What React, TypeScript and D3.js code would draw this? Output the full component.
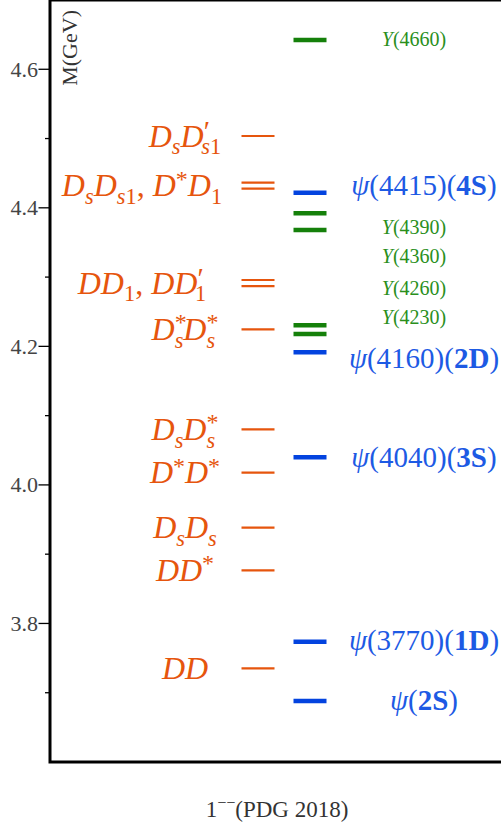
import React from 'react';
import * as d3 from 'd3';

// ---------- data ----------
const thresholdLabels = [
  'DD', 'DD^{*}', 'D_{s}D_{s}', 'D^{*}D^{*}', 'D_{s}D^{*}_{s}', 'D^{*}_{s}D^{*}_{s}',
  "DD_{1}, DD'_{1}", 'D_{s}D_{s1}, D^{*}D_{1}', "D_{s}D'_{s1}",
];
// label anchor masses (GeV)
const thresholdLabelMasses = [3.7352, 3.8767, 3.9382, 4.0176, 4.0803, 4.2246, 4.2915, 4.432, 4.5037];
// individual threshold lines (GeV)
const thresholdLines = [3.7352, 3.8767, 3.9382, 4.0176, 4.0803, 4.2246, 4.2871, 4.2958, 4.4276, 4.4363, 4.5037];

const psiLabels = ['ψ(\\b{2S})', 'ψ(3770)(\\b{1D})', 'ψ(4040)(\\b{3S})', 'ψ(4160)(\\b{2D})', 'ψ(4415)(\\b{4S})'];
const psiMasses = [3.688, 3.7736, 4.0398, 4.1914, 4.4218];
const psiLabelMasses = [3.687, 3.7736, 4.0388, 4.1817, 4.4315];

const yLabels = ['Y(4230)', 'Y(4260)', 'Y(4360)', 'Y(4390)', 'Y(4660)'];
const yMasses = [4.2178, 4.2304, 4.368, 4.3921, 4.6423];
const yLabelMasses = [4.2414, 4.2828, 4.3294, 4.3713, 4.6423];

const majorTicks = [3.8, 4.0, 4.2, 4.4, 4.6];
const majorTickLabels = ['3.8', '4.0', '4.2', '4.4', '4.6'];
const minorTicks = [3.7, 3.9, 4.1, 4.3, 4.5];

const yDomain = [3.6, 4.7];

// ---------- styles ----------
const ORANGE = '#e6550d';
const BLUE = '#0343df';
const BLUE_TEXT = '#1d5ae4';
const GREEN = '#15800a';
const GREEN_TEXT = '#2a8f1c';
const FONT = '"Liberation Serif", "DejaVu Serif", serif';

type Piece = { t: string; shift: number; size: number; it: boolean; b: boolean; dx: number };

const charW: Record<string, number> = { '*': 0.5, s: 0.389, '1': 0.5, '′': 0.3 };
const estW = (s: string) => Array.from(s).reduce((a, c) => a + (charW[c] ?? 0.5), 0);

function scriptStyle(content: string, sub: boolean) {
  if (sub) return { shift: 0.24, size: 0.7 };
  if (content === '*') return { shift: -0.3, size: 0.75 };
  if (content === '′') return { shift: -0.18, size: 0.9 };
  return { shift: -0.38, size: 0.7 };
}

function parseTeX(s: string, math = true): Piece[] {
  const pieces: Piece[] = [];
  let i = 0;
  let prevScript: number | null = null;
  const add = (t: string, shift: number, size: number, bold: boolean, dx0 = 0) => {
    let dx = dx0;
    for (const ch of Array.from(t)) {
      const it = math && !bold && /[A-Za-zψ]/.test(ch);
      const last = pieces[pieces.length - 1];
      if (last && last.shift === shift && last.size === size && last.it === it && last.b === bold && dx === 0) last.t += ch;
      else {
        pieces.push({ t: ch, shift, size, it, b: bold, dx });
        dx = 0;
      }
    }
  };
  const readGroup = () => {
    let depth = 0;
    const start = i + 1;
    for (; i < s.length; i++) {
      if (s[i] === '{') depth++;
      else if (s[i] === '}') {
        depth--;
        if (depth === 0) break;
      }
    }
    const content = s.slice(start, i);
    i++;
    return content;
  };
  const script = (content: string, sub: boolean) => {
    const st = scriptStyle(content, sub);
    const dx = prevScript !== null ? -prevScript : 0;
    add(content, st.shift, st.size, false, dx);
    prevScript = prevScript !== null ? null : estW(content) * st.size;
  };
  while (i < s.length) {
    const c = s[i];
    if (c === '_' || c === '^') {
      i++;
      const content = s[i] === '{' ? readGroup() : s[i++];
      script(content, c === '_');
      continue;
    }
    if (c === "'") {
      i++;
      script('′', false);
      continue;
    }
    if (s.startsWith('\\b{', i)) {
      i += 2;
      const content = readGroup();
      add(content, 0, 1, true);
      prevScript = null;
      continue;
    }
    add(c, 0, 1, false);
    prevScript = null;
    i++;
  }
  return pieces;
}

function Rich(props: { s: string; fs: number; x: number; y: number; fill: string; anchor?: string; math?: boolean }) {
  const { s, fs, x, y, fill, anchor = 'middle', math = true } = props;
  const pieces = parseTeX(s, math);
  let cur = 0;
  return (
    <text x={x} y={y} fill={fill} fontSize={fs} fontFamily={FONT} textAnchor={anchor}>
      {pieces.map((p, k) => {
        const target = p.shift * fs;
        const dy = target - cur;
        cur = target;
        return (
          <tspan
            key={k}
            dy={dy || undefined}
            dx={p.dx ? p.dx * fs : undefined}
            fontSize={p.size * fs}
            fontStyle={p.it ? 'italic' : 'normal'}
            fontWeight={p.b ? 'bold' : 'normal'}
          >
            {p.t}
          </tspan>
        );
      })}
    </text>
  );
}

export default function App() {
  const W = 501;
  const H = 832;
  const plot = { left: 50, right: 504, top: 0, bottom: 762 };
  const y = d3.scaleLinear().domain(yDomain).range([plot.bottom, plot.top]);
  const col = d3.scaleOrdinal<string, number>().domain(['thr', 'exp']).range([258, 310]);
  const halfW = 16.5;

  const orangeFs = 32;
  const blueFs = 29;
  const greenFs = 20;

  return (
    <div style={{ position: 'absolute', left: 0, top: 0, width: W, height: H, background: '#fff' }}>
      <svg width={W} height={H} style={{ display: 'block' }}>
        {/* frame */}
        <rect x={plot.left} y={plot.top} width={plot.right - plot.left} height={plot.bottom - plot.top}
          fill="none" stroke="#000" strokeWidth={3} />
        {/* ticks */}
        {majorTicks.map((t, k) => (
          <g key={'M' + k}>
            <line x1={plot.left - 11.5} x2={plot.left} y1={y(t)} y2={y(t)} stroke="#000" strokeWidth={1.3} />
            <text x={plot.left - 12} y={y(t) + 7.3} textAnchor="end" fontSize={22} fontFamily={FONT} fill="#444">
              {majorTickLabels[k]}
            </text>
          </g>
        ))}
        {minorTicks.map((t, k) => (
          <line key={'m' + k} x1={plot.left - 5} x2={plot.left} y1={y(t)} y2={y(t)} stroke="#000" strokeWidth={1.3} />
        ))}
        {/* y label */}
        <text transform={`translate(77,10) rotate(-90)`} textAnchor="end" fontSize={22} fontFamily={FONT} fill="#333">
          M(GeV)
        </text>

        {/* threshold lines */}
        {thresholdLines.map((m, k) => (
          <line key={'t' + k} x1={col('thr') - halfW} x2={col('thr') + halfW} y1={y(m)} y2={y(m)}
            stroke={ORANGE} strokeWidth={2.2} />
        ))}
        {thresholdLabels.map((l, k) => (
          <Rich key={'tl' + k} s={l} fs={orangeFs} x={l.includes(',') ? 142 : 185}
            y={y(thresholdLabelMasses[k]) + 0.33 * orangeFs} fill={ORANGE} />
        ))}

        {/* psi states */}
        {psiMasses.map((m, k) => (
          <line key={'p' + k} x1={col('exp') - halfW} x2={col('exp') + halfW} y1={y(m)} y2={y(m)}
            stroke={BLUE} strokeWidth={4.5} />
        ))}
        {psiLabels.map((l, k) => (
          <Rich key={'pl' + k} s={l} fs={blueFs} x={424} y={y(psiLabelMasses[k]) + 0.3 * blueFs} fill={BLUE_TEXT} />
        ))}

        {/* Y states */}
        {yMasses.map((m, k) => (
          <line key={'y' + k} x1={col('exp') - halfW} x2={col('exp') + halfW} y1={y(m)} y2={y(m)}
            stroke={GREEN} strokeWidth={4.5} />
        ))}
        {yLabels.map((l, k) => (
          <Rich key={'yl' + k} s={l} fs={greenFs} x={414} y={y(yLabelMasses[k]) + 0.3 * greenFs} fill={GREEN_TEXT} />
        ))}

        {/* x label */}
        <Rich s={'1^{−−}(PDG 2018)'} math={false} fs={23} x={277} y={817} fill="#333" />
      </svg>
    </div>
  );
}
